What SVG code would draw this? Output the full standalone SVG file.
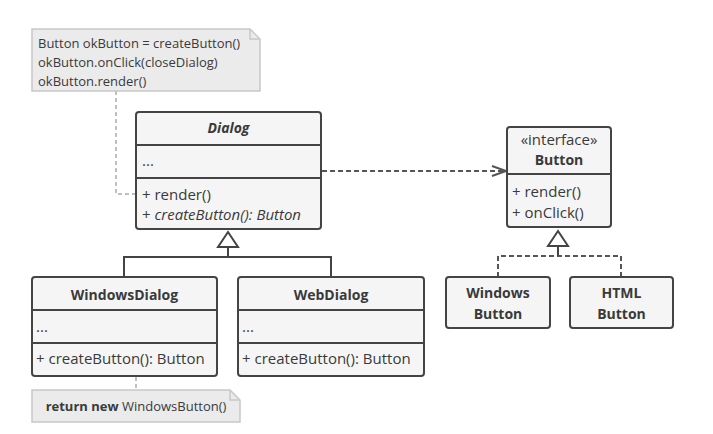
<svg xmlns="http://www.w3.org/2000/svg" width="713" height="434" viewBox="0 0 713 434">
  <style>
    .box { fill: #f5f5f5; stroke: #444; stroke-width: 2; }
    .sep { stroke: #444; stroke-width: 2; }
    .note { fill: #ebebeb; stroke: #c8c8c8; stroke-width: 1.5; }
    .t { font-family: "Open Sans", "Noto Sans", sans-serif; font-size: 15px; fill: #3a3a3a; }
    .h { font-size: 14px; font-weight: bold; }
    .n { font-size: 13px; }
    .b { font-weight: bold; }
    .i { font-style: italic; }
    .c { text-anchor: middle; }
    .line { fill: none; stroke: #444; stroke-width: 2; }
    .dash { fill: none; stroke: #555; stroke-width: 2; stroke-dasharray: 5 3; }
    .dot { fill: none; stroke: #aaa; stroke-width: 1.5; stroke-dasharray: 4 3; }
  </style>
  <defs>
    <marker id="open" markerWidth="16" markerHeight="12" refX="15" refY="6" orient="auto" markerUnits="userSpaceOnUse">
      <path d="M1,1 L15,6 L1,11" fill="none" stroke="#555" stroke-width="2"/>
    </marker>
  </defs>
  <rect width="713" height="434" fill="#fff"/>

  <!-- connectors -->
  <g id="connectors">
    <path class="dot" d="M116,91 V194 H136"/>
    <path class="dot" d="M136,377 V390"/>
    <path class="dash" d="M322,171 H506" marker-end="url(#open)"/>
    <!-- Dialog inheritance -->
    <path class="line" d="M124,277 V257 H331 V277 M228,257 V247"/>
    <path class="line" d="M228,232 L238,247 H218 Z" fill="#fff"/>
    <!-- Button realization -->
    <path class="dash" d="M498,277 V256 H621 V277"/>
    <path class="line" d="M558,256 V246"/>
    <path class="line" d="M558,231 L568,246 H548 Z" fill="#fff"/>
  </g>

  <g id="note-dialog">
    <path class="note" d="M32,29 H250 L260,39 V91 H32 Z"/>
    <path d="M250,29 V39 H260" fill="none" stroke="#c8c8c8" stroke-width="1.5"/>
    <text class="t n" x="38" y="48">Button okButton = createButton()</text>
    <text class="t n" x="38" y="67">okButton.onClick(closeDialog)</text>
    <text class="t n" x="38" y="86">okButton.render()</text>
  </g>

  <g id="dialog">
    <rect class="box" x="136" y="112" width="185" height="117" rx="3"/>
    <line class="sep" x1="136" y1="145" x2="321" y2="145"/>
    <line class="sep" x1="136" y1="178" x2="321" y2="178"/>
    <text class="t h i c" x="228.5" y="133">Dialog</text>
    <text class="t" x="142" y="166">...</text>
    <text class="t" x="142" y="200">+ render()</text>
    <text class="t" x="142" y="220">+ <tspan class="i">createButton(): Button</tspan></text>
  </g>

  <g id="button">
    <rect class="box" x="507" y="127" width="104" height="100" rx="3"/>
    <line class="sep" x1="507" y1="174" x2="611" y2="174"/>
    <text class="t c" x="559" y="145">«interface»</text>
    <text class="t h c" x="559" y="165">Button</text>
    <text class="t" x="512" y="197">+ render()</text>
    <text class="t" x="512" y="218">+ onClick()</text>
  </g>

  <g id="windows-dialog">
    <rect class="box" x="32" y="277" width="185" height="99" rx="3"/>
    <line class="sep" x1="32" y1="310" x2="217" y2="310"/>
    <line class="sep" x1="32" y1="343" x2="217" y2="343"/>
    <text class="t h c" x="124.5" y="300">WindowsDialog</text>
    <text class="t" x="36" y="332">...</text>
    <text class="t" x="36" y="364">+ createButton(): Button</text>
  </g>

  <g id="web-dialog">
    <rect class="box" x="238" y="277" width="186" height="99" rx="3"/>
    <line class="sep" x1="238" y1="310" x2="424" y2="310"/>
    <line class="sep" x1="238" y1="343" x2="424" y2="343"/>
    <text class="t h c" x="331" y="300">WebDialog</text>
    <text class="t" x="242" y="332">...</text>
    <text class="t" x="242" y="364">+ createButton(): Button</text>
  </g>

  <g id="windows-button">
    <rect class="box" x="446" y="277" width="104" height="51" rx="3"/>
    <text class="t h c" x="498" y="298">Windows</text>
    <text class="t h c" x="498" y="319">Button</text>
  </g>

  <g id="html-button">
    <rect class="box" x="570" y="277" width="103" height="51" rx="3"/>
    <text class="t h c" x="621.5" y="298">HTML</text>
    <text class="t h c" x="621.5" y="319">Button</text>
  </g>

  <g id="note-windows-dialog">
    <path class="note" d="M32,390 H230 L240,400 V422 H32 Z"/>
    <path d="M230,390 V400 H240" fill="none" stroke="#c8c8c8" stroke-width="1.5"/>
    <text class="t n c" x="136" y="411"><tspan class="b">return new</tspan> WindowsButton()</text>
  </g>
</svg>
